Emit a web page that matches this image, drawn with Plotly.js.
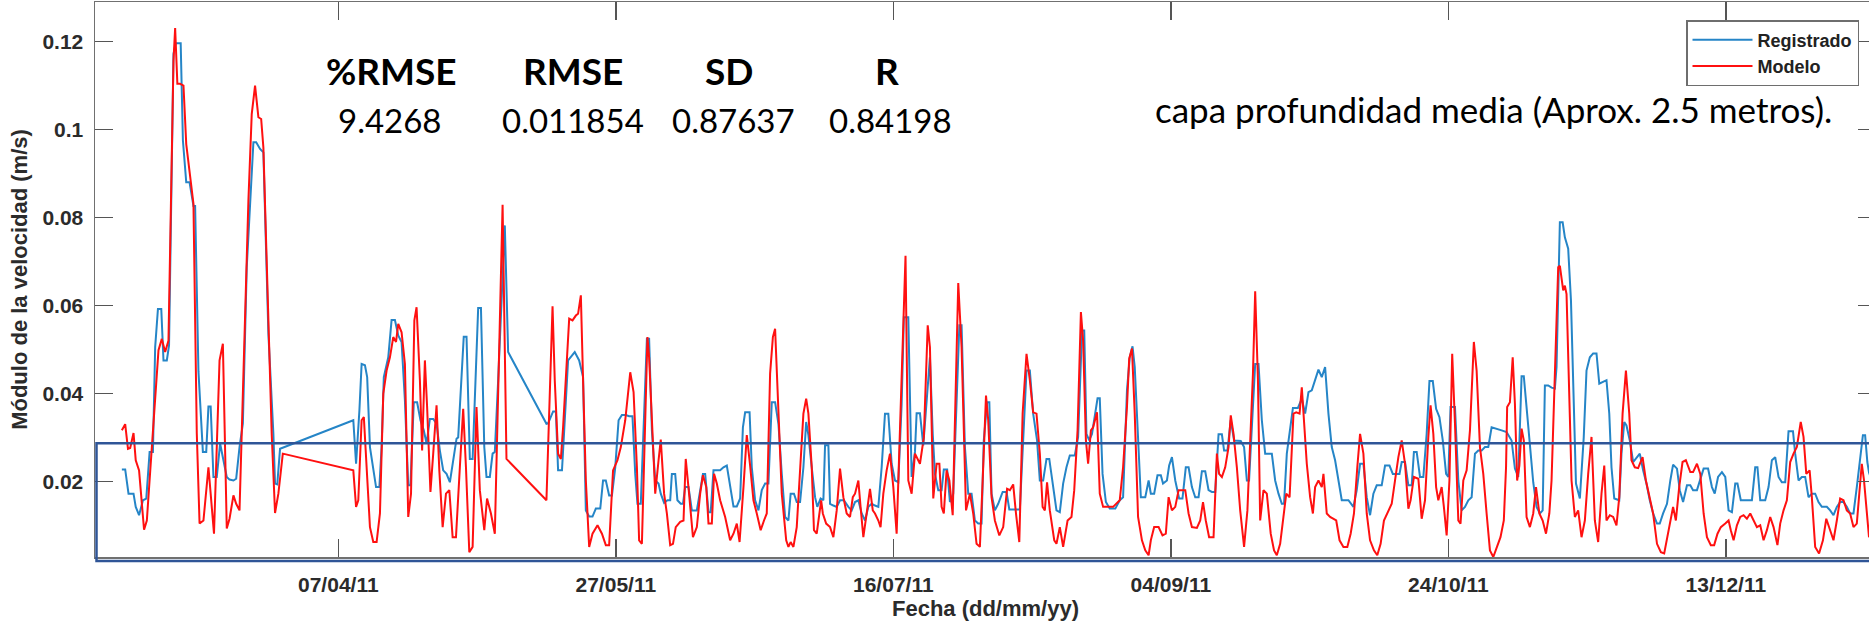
<!DOCTYPE html>
<html>
<head>
<meta charset="utf-8">
<script src="https://cdn.plot.ly/plotly-3.0.1.min.js"></script>
<style>
html,body{margin:0;padding:0;overflow:hidden;background:#fff;width:1869px;height:627px;}
#chart{width:1900px;height:627px;}
</style>
</head>
<body>
<div id="chart"></div>
<script>
// ---- Data (day of year 2011, velocity m/s) ----
const registrado = [
[58.0,0.0227],[58.6,0.0227],[59.2,0.0172],[60.1,0.0172],[60.5,0.0142],[61.1,0.0123],[61.8,0.0157],[62.4,0.0161],[63.0,0.0267],[63.6,0.0267],
[64.0,0.0505],[64.5,0.0592],[65.1,0.0592],[65.5,0.0475],[66.1,0.0475],[66.5,0.0509],[67.3,0.1172],[67.7,0.1196],[68.6,0.1196],[69.0,0.0975],
[69.6,0.088],[70.2,0.088],[70.9,0.0826],[71.2,0.0826],[71.8,0.045],[72.1,0.0369],[72.6,0.0267],[73.2,0.0267],[73.6,0.037],[74.0,0.037],
[74.5,0.021],[75.1,0.021],[75.7,0.0286],[76.9,0.021],[77.4,0.0204],[78.1,0.0202],[78.6,0.0206],[79.2,0.0278],[79.8,0.0331],[80.5,0.0687],
[81.7,0.0971],[82.2,0.0971],[82.9,0.0956],[83.5,0.0948],[84.4,0.0536],[85.3,0.0308],[85.6,0.0195],[86.0,0.0193],[86.5,0.0274],
[99.7,0.0339],[100.2,0.024],[100.8,0.0361],[101.2,0.0467],[101.8,0.0464],[102.2,0.0437],[102.7,0.0278],[103.3,0.0232],[103.8,0.0187],[104.4,0.0187],
[104.8,0.0278],[105.2,0.0437],[106.0,0.0482],[106.6,0.0567],[107.2,0.0567],[107.8,0.0532],[108.4,0.0517],[109.0,0.0384],[109.6,0.0191],[110.0,0.0191],
[110.6,0.038],[111.2,0.038],[111.8,0.0339],[112.4,0.0316],[112.9,0.0286],[113.5,0.0342],[114.1,0.0342],[114.7,0.0331],[115.3,0.027],[115.9,0.0225],
[116.5,0.0217],[117.1,0.0198],[117.7,0.0248],[118.3,0.0297],[118.6,0.030],[119.2,0.043],[119.6,0.0529],[120.1,0.0529],[120.7,0.0251],[121.2,0.0251],
[121.9,0.0467],[122.2,0.0594],[122.7,0.0594],[123.3,0.0278],[123.7,0.021],[124.3,0.021],[124.8,0.0263],[125.2,0.0267],[125.8,0.043],[127.0,0.0782],
[127.6,0.0494],[134.5,0.0331],[134.8,0.0332],[135.7,0.0359],[136.2,0.0359],[136.6,0.0225],[137.3,0.0225],[137.8,0.0354],[138.4,0.0475],[139.6,0.0494],
[140.4,0.0475],[141.1,0.0437],[141.6,0.0134],[142.2,0.012],[142.8,0.012],[143.4,0.0138],[144.2,0.0138],[144.7,0.0202],[145.2,0.0202],[145.8,0.0168],
[146.3,0.0168],[146.9,0.0232],[147.5,0.0339],[148.1,0.0351],[148.8,0.0351],[149.4,0.0348],[150.0,0.0348],[150.5,0.0217],[150.9,0.0149],[151.5,0.0149],
[152.1,0.0339],[152.6,0.0524],[153.0,0.0524],[153.5,0.0316],[154.1,0.0202],[154.7,0.0195],[155.1,0.0172],[155.7,0.0151],[156.3,0.0157],[156.8,0.0157],
[157.1,0.0217],[157.7,0.0217],[158.1,0.0157],[158.7,0.0149],[159.1,0.0149],[159.5,0.0187],[160.1,0.0187],[160.7,0.0134],[161.6,0.0134],[162.2,0.018],
[162.7,0.0217],[163.1,0.0217],[163.7,0.013],[164.1,0.013],[164.6,0.0225],[165.8,0.0225],[166.4,0.0232],[167.0,0.0236],[167.6,0.0187],[168.2,0.0143],
[168.8,0.0143],[169.4,0.0161],[169.9,0.0323],[170.3,0.0357],[171.1,0.0357],[171.5,0.0232],[172.1,0.0157],[172.7,0.0134],[173.3,0.018],[173.9,0.0195],
[174.5,0.0195],[175.1,0.038],[175.7,0.038],[176.3,0.0331],[176.9,0.0217],[177.5,0.0119],[178.1,0.0111],[178.5,0.0172],[179.1,0.0172],[179.6,0.0153],
[180.2,0.0153],[180.8,0.0232],[181.3,0.0335],[181.7,0.0305],[182.3,0.0232],[182.9,0.0164],[183.3,0.0142],[183.9,0.0161],[184.4,0.0157],[184.7,0.0282],
[185.3,0.0282],[185.6,0.0149],[186.2,0.0145],[186.8,0.0142],[187.4,0.0157],[188.1,0.0157],[188.9,0.0142],[189.5,0.0134],[190.1,0.0153],[190.7,0.0157],
[191.3,0.0127],[191.9,0.0111],[192.5,0.0142],[193.1,0.0149],[193.7,0.0145],[194.3,0.0142],[194.9,0.0232],[195.5,0.0354],[196.1,0.0354],[196.7,0.024],
[197.3,0.0202],[197.9,0.0198],[198.5,0.0376],[198.9,0.0573],[199.7,0.0573],[200.3,0.021],[200.9,0.0267],[201.2,0.0355],[201.8,0.0355],[202.4,0.0282],
[203.6,0.0482],[204.1,0.0308],[204.5,0.0217],[205.1,0.018],[205.7,0.018],[206.1,0.0227],[206.7,0.0227],[207.2,0.0153],[207.8,0.0172],[208.3,0.0354],
[208.9,0.0555],[209.3,0.0555],[209.9,0.0278],[210.5,0.0172],[211.1,0.0172],[211.7,0.0111],[212.3,0.0104],[212.9,0.0104],[213.3,0.0293],[213.9,0.038],
[214.3,0.038],[214.7,0.0172],[215.3,0.0134],[215.9,0.0149],[216.7,0.0176],[217.4,0.0176],[217.9,0.0136],[219.8,0.0136],[220.4,0.030],[221.0,0.0452],
[221.6,0.0452],[222.2,0.0354],[222.9,0.0293],[223.4,0.0202],[224.0,0.0202],[224.6,0.0251],[225.1,0.0251],[225.7,0.0202],[226.4,0.0134],[227.0,0.013],
[227.6,0.0195],[228.2,0.0232],[228.8,0.0259],[229.7,0.0259],[230.3,0.0301],[231.0,0.0543],[231.4,0.0543],[231.8,0.0308],[232.3,0.0293],[232.8,0.0308],
[233.3,0.0354],[233.8,0.0389],[234.2,0.0389],[234.7,0.0217],[235.3,0.0153],[236.0,0.0138],[237.0,0.0138],[237.8,0.0157],[238.4,0.0164],[239.1,0.0407],
[239.6,0.0482],[240.1,0.0507],[240.5,0.046],[241.1,0.0278],[241.6,0.0164],[242.4,0.0164],[243.0,0.0202],[243.4,0.0172],[244.0,0.0172],[244.6,0.0214],
[245.2,0.0214],[245.6,0.0195],[246.3,0.0202],[246.7,0.0236],[247.2,0.0255],[247.8,0.0202],[248.2,0.018],[248.5,0.0161],[249.1,0.0161],[249.7,0.0232],
[250.2,0.0232],[250.8,0.0187],[251.4,0.0164],[252.0,0.0164],[252.6,0.0223],[253.2,0.0223],[253.8,0.018],[254.4,0.0176],[255.0,0.0176],[255.6,0.0307],
[256.2,0.0307],[256.6,0.027],[257.2,0.027],[257.8,0.0339],[258.4,0.0293],[259.0,0.0292],[259.6,0.0292],[260.2,0.0278],[260.7,0.0202],[261.1,0.0202],
[261.6,0.0323],[262.2,0.0467],[262.8,0.0467],[263.4,0.0339],[264.0,0.0263],[265.2,0.0263],[265.8,0.0202],[266.4,0.0172],[267.0,0.0149],[267.4,0.0149],
[267.9,0.0263],[268.4,0.0316],[269.0,0.0367],[269.9,0.0367],[270.6,0.0388],[271.2,0.0354],[271.8,0.0403],[272.4,0.0407],[273.0,0.043],[273.6,0.0454],
[274.2,0.0437],[274.8,0.046],[275.4,0.0354],[276.0,0.0278],[276.6,0.0248],[277.2,0.0202],[277.8,0.0157],[279.0,0.0157],[279.9,0.0142],[280.5,0.018],
[281.1,0.024],[281.7,0.024],[282.3,0.0164],[282.9,0.0123],[283.5,0.0172],[284.1,0.0191],[285.0,0.0191],[285.6,0.0236],[286.4,0.0236],[287.0,0.0217],
[288.2,0.0217],[288.6,0.0244],[289.2,0.0244],[289.8,0.0191],[290.4,0.0191],[290.8,0.0267],[291.3,0.0267],[291.9,0.021],[292.5,0.021],[293.1,0.0308],
[293.6,0.0428],[294.2,0.0428],[294.8,0.0365],[295.4,0.0346],[296.0,0.0293],[296.6,0.0217],[297.0,0.021],[297.4,0.0369],[298.2,0.0369],[298.8,0.0202],
[299.4,0.0134],[300.0,0.0142],[300.6,0.0157],[301.2,0.0164],[301.8,0.0263],[302.4,0.027],[303.0,0.027],[303.6,0.0278],[304.2,0.0278],[304.8,0.0323],
[305.7,0.032],[306.6,0.0316],[307.5,0.0312],[308.4,0.0293],[309.0,0.0229],[309.6,0.021],[310.2,0.0439],[310.6,0.0439],[311.2,0.0354],[311.8,0.0278],
[312.3,0.0198],[312.9,0.0142],[313.5,0.0127],[314.0,0.0134],[314.4,0.0418],[315.0,0.0418],[315.6,0.0413],[316.2,0.0411],[316.5,0.046],[317.1,0.0789],
[317.6,0.0789],[318.0,0.0755],[318.6,0.0729],[319.1,0.0611],[319.5,0.0422],[320.0,0.0195],[320.7,0.0161],[321.4,0.030],[321.9,0.0452],[322.5,0.0482],
[323.1,0.0491],[323.7,0.0491],[324.2,0.0422],[324.8,0.0425],[325.5,0.043],[326.0,0.0354],[326.4,0.0232],[326.9,0.0161],[327.8,0.0157],[328.2,0.0263],
[328.7,0.0335],[329.1,0.0327],[329.7,0.0293],[330.3,0.0244],[330.9,0.0255],[331.5,0.0263],[332.1,0.0225],[332.7,0.0195],[333.3,0.0157],[333.9,0.0127],
[334.6,0.0104],[335.1,0.0104],[335.7,0.0127],[336.4,0.0149],[337.0,0.0202],[337.5,0.0238],[338.2,0.0229],[338.7,0.018],[339.3,0.0153],[340.0,0.0191],
[340.6,0.0191],[341.1,0.018],[341.8,0.018],[342.4,0.0202],[343.0,0.0229],[343.8,0.0229],[344.5,0.0187],[345.0,0.0172],[345.6,0.021],[346.3,0.0221],
[346.9,0.021],[347.5,0.0134],[348.1,0.013],[348.7,0.0195],[349.1,0.0195],[349.7,0.0157],[351.7,0.0157],[352.3,0.0232],[352.7,0.0232],[353.2,0.0157],
[354.1,0.0157],[354.7,0.0187],[355.3,0.0248],[355.9,0.0255],[356.5,0.021],[357.1,0.0198],[357.7,0.0198],[358.3,0.0314],[359.1,0.0314],[359.5,0.0263],
[360.1,0.0202],[360.7,0.021],[361.3,0.021],[361.9,0.0164],[362.5,0.0172],[363.1,0.0172],[363.7,0.0153],[364.3,0.0142],[365.2,0.0142],[365.8,0.0134],
[366.4,0.0123],[367.0,0.0142],[367.6,0.0153],[368.2,0.0153],[368.8,0.0142],[369.4,0.0127],[370.0,0.0127],[370.6,0.0187],[371.2,0.0248],[371.7,0.0305],
[372.1,0.0305],[372.5,0.0244],[372.8,0.022],[373.9,0.018]
];

const modelo = [
[58.0,0.0316],[58.6,0.033],[59.1,0.0274],[59.5,0.0276],[60.1,0.031],[60.5,0.0248],[61.1,0.0225],[62.0,0.009],[62.5,0.0111],[64.0,0.0399],
[64.6,0.0498],[65.2,0.0524],[65.8,0.0494],[66.4,0.052],[67.0,0.0914],[67.3,0.1156],[67.6,0.1231],[68.0,0.1104],[68.5,0.1104],[69.1,0.110],
[69.6,0.0967],[70.3,0.0891],[70.9,0.0831],[71.5,0.0309],[72.0,0.0104],[72.7,0.0111],[73.6,0.0232],[74.0,0.0172],[74.6,0.0081],[75.6,0.0475],
[76.2,0.0513],[76.9,0.0093],[77.4,0.0115],[78.1,0.0168],[78.6,0.0149],[79.2,0.0134],[80.8,0.0838],[81.4,0.1035],[82.0,0.110],[82.6,0.1028],
[83.1,0.1024],[83.5,0.0959],[84.4,0.0536],[85.0,0.0308],[85.6,0.0128],[86.2,0.0172],[87.0,0.0263],
[99.7,0.0225],[100.2,0.0142],[100.6,0.0157],[101.2,0.0339],[101.6,0.0346],[102.1,0.0232],[102.7,0.0096],[103.3,0.0062],[103.9,0.0062],[104.5,0.0127],
[105.1,0.0399],[105.7,0.0452],[106.3,0.0482],[106.9,0.0528],[107.4,0.0517],[107.8,0.0558],[108.4,0.0539],[109.0,0.0467],[109.6,0.0119],[110.1,0.0172],
[110.7,0.0566],[111.1,0.0596],[111.7,0.043],[112.1,0.027],[112.6,0.0475],[113.0,0.0369],[113.6,0.0176],[114.1,0.0263],[114.7,0.0373],[115.2,0.0225],
[115.8,0.0096],[116.4,0.0172],[117.0,0.018],[117.6,0.0073],[118.2,0.0073],[118.9,0.0232],[119.5,0.0365],[120.0,0.0232],[120.6,0.0039],[121.2,0.0051],
[121.9,0.0369],[122.5,0.018],[123.3,0.0089],[123.8,0.0161],[124.5,0.0127],[125.2,0.0081],[125.8,0.043],[126.6,0.0829],[127.3,0.0251],
[134.5,0.0157],[135.6,0.0598],[136.0,0.043],[136.6,0.0263],[137.1,0.0251],[137.5,0.0323],[138.6,0.057],[139.2,0.0566],[139.8,0.0577],[140.2,0.0581],
[140.7,0.0623],[141.1,0.043],[141.6,0.0202],[142.2,0.0051],[142.8,0.0081],[143.7,0.010],[144.5,0.0081],[145.2,0.0055],[145.8,0.0055],[146.5,0.0225],
[147.3,0.0248],[147.9,0.0278],[148.7,0.0339],[149.6,0.0448],[150.2,0.0403],[150.8,0.0232],[151.2,0.0066],[151.7,0.0058],[152.7,0.0528],[153.0,0.0482],
[153.6,0.0316],[154.1,0.0172],[154.7,0.0248],[155.1,0.0295],[155.7,0.0172],[156.2,0.0127],[156.8,0.0055],[157.3,0.0058],[157.8,0.0096],[158.6,0.0108],
[159.2,0.0111],[159.6,0.0251],[160.2,0.0172],[160.9,0.0073],[161.6,0.0096],[162.2,0.0172],[162.7,0.0214],[163.3,0.0187],[163.7,0.0104],[164.3,0.0104],
[164.7,0.0217],[165.2,0.0195],[165.8,0.0157],[166.7,0.0119],[167.6,0.0066],[168.2,0.0081],[168.8,0.0104],[169.3,0.0062],[170.0,0.0187],[170.6,0.0305],
[171.2,0.0236],[171.8,0.0157],[172.4,0.0127],[173.1,0.0089],[173.7,0.0111],[174.2,0.0127],[174.8,0.0445],[175.3,0.0528],[175.7,0.0547],[176.3,0.0354],
[176.9,0.0172],[177.7,0.0066],[178.1,0.0051],[178.5,0.0062],[179.0,0.0051],[179.6,0.0096],[180.3,0.0232],[180.8,0.0354],[181.3,0.0388],[181.7,0.0354],
[182.3,0.0232],[182.7,0.0089],[183.2,0.0081],[183.7,0.0134],[184.0,0.0157],[184.3,0.0127],[184.9,0.0104],[185.6,0.0096],[186.2,0.0073],[186.8,0.0134],
[187.4,0.0229],[188.0,0.0164],[188.6,0.0127],[189.2,0.0119],[189.7,0.0164],[190.1,0.0172],[190.7,0.0202],[191.1,0.0142],[191.6,0.0073],[192.2,0.0127],
[192.8,0.0183],[193.3,0.0134],[193.7,0.0127],[194.3,0.0111],[194.7,0.0096],[195.2,0.0172],[195.8,0.0225],[196.4,0.0263],[197.0,0.0187],[197.6,0.0081],
[198.2,0.0308],[198.8,0.0581],[199.2,0.0713],[199.7,0.0202],[200.3,0.0172],[200.9,0.0263],[201.8,0.024],[202.5,0.030],[203.2,0.0555],[203.6,0.0505],
[204.2,0.0161],[204.8,0.024],[205.3,0.024],[205.7,0.0142],[206.1,0.0127],[206.6,0.0225],[207.1,0.0202],[207.7,0.0123],[208.3,0.043],[208.7,0.0651],
[209.3,0.0505],[210.1,0.0134],[210.8,0.0172],[211.4,0.0127],[212.0,0.0058],[212.6,0.0051],[213.1,0.0202],[213.7,0.0395],[214.1,0.0339],[214.7,0.0164],
[215.3,0.0111],[216.1,0.0077],[216.8,0.0096],[217.5,0.0183],[218.0,0.018],[218.6,0.0193],[219.1,0.0127],[219.7,0.0062],[220.3,0.0354],[221.0,0.049],
[221.6,0.043],[222.2,0.0357],[222.8,0.0354],[223.4,0.0263],[223.9,0.0142],[224.3,0.0134],[224.7,0.0198],[225.2,0.0134],[226.0,0.0066],[226.4,0.0058],
[227.0,0.0096],[227.6,0.0051],[228.4,0.0111],[229.1,0.0119],[229.6,0.018],[230.2,0.0316],[230.8,0.0585],[231.2,0.052],[231.7,0.0293],[232.1,0.024],
[232.6,0.0316],[233.0,0.0323],[233.7,0.0357],[234.2,0.0172],[234.8,0.0142],[236.6,0.0142],[237.8,0.0157],[238.4,0.0232],[239.1,0.0369],[239.5,0.0479],
[240.0,0.0502],[240.5,0.0354],[241.1,0.0119],[241.8,0.0066],[242.4,0.0043],[243.0,0.0032],[243.4,0.0066],[244.0,0.0096],[244.8,0.0096],[245.5,0.0077],
[246.1,0.0081],[246.6,0.0164],[247.2,0.0134],[247.8,0.0142],[248.4,0.018],[249.6,0.018],[250.2,0.0127],[250.8,0.0096],[251.7,0.0094],[252.3,0.0111],
[252.8,0.0153],[253.3,0.0111],[253.9,0.0073],[254.7,0.0073],[255.3,0.0263],[255.7,0.0217],[256.2,0.021],[256.8,0.0232],[257.4,0.0278],[257.8,0.035],
[258.3,0.0308],[258.9,0.0232],[259.5,0.0134],[260.2,0.0051],[260.8,0.0134],[261.3,0.0278],[261.8,0.0445],[262.2,0.0632],[262.7,0.043],[263.1,0.0111],
[263.7,0.018],[264.3,0.0172],[265.0,0.0081],[265.6,0.0043],[266.1,0.0032],[266.7,0.0058],[267.3,0.0127],[267.8,0.0172],[268.4,0.0164],[269.1,0.0354],
[269.6,0.0357],[270.2,0.0354],[270.6,0.0414],[271.0,0.0331],[271.5,0.024],[272.1,0.0164],[272.6,0.0127],[273.0,0.0187],[273.6,0.0202],[274.2,0.0187],
[274.5,0.0217],[275.1,0.0127],[275.7,0.0119],[276.8,0.0111],[277.4,0.0066],[278.1,0.0051],[278.8,0.0051],[279.4,0.0081],[280.0,0.0127],[280.6,0.0232],
[281.1,0.0308],[281.7,0.0263],[282.3,0.0127],[282.9,0.0066],[283.6,0.0043],[284.2,0.0032],[284.8,0.0058],[285.4,0.0111],[286.0,0.0127],[286.8,0.0149],
[287.4,0.0202],[288.0,0.0255],[288.6,0.0293],[289.2,0.024],[289.8,0.0138],[290.2,0.0157],[290.8,0.021],[291.6,0.0206],[292.2,0.0115],[292.8,0.0157],
[293.4,0.0301],[293.8,0.0373],[294.3,0.0308],[294.8,0.0187],[295.2,0.0157],[295.8,0.0187],[296.2,0.0142],[296.7,0.0077],[297.2,0.0202],[297.7,0.049],
[298.2,0.0331],[298.8,0.0111],[299.2,0.0104],[299.7,0.0202],[300.3,0.0225],[300.9,0.0316],[301.6,0.0517],[302.1,0.0452],[302.7,0.0278],[303.3,0.0217],
[303.9,0.0127],[304.5,0.0043],[305.1,0.0028],[305.8,0.0051],[306.4,0.0073],[307.0,0.0111],[307.4,0.0232],[307.6,0.0369],[308.1,0.038],[308.6,0.0482],
[309.0,0.0376],[309.4,0.0202],[309.8,0.0236],[310.2,0.032],[310.6,0.0293],[311.1,0.0119],[311.7,0.0096],[312.3,0.0127],[312.8,0.0187],[313.4,0.0127],
[314.0,0.0111],[314.6,0.0081],[315.2,0.0127],[315.6,0.0202],[316.2,0.043],[316.8,0.0687],[317.1,0.069],[317.7,0.0634],[318.0,0.0645],[318.3,0.0626],
[318.9,0.0346],[319.2,0.0202],[319.8,0.0119],[320.4,0.0134],[321.0,0.0073],[321.6,0.0111],[322.2,0.0217],[322.8,0.0301],[323.4,0.0111],[324.0,0.0062],
[324.6,0.0172],[325.1,0.0236],[325.5,0.0111],[326.1,0.0123],[326.7,0.0119],[327.3,0.010],[327.8,0.0164],[328.4,0.0354],[329.0,0.0452],[329.6,0.0354],
[330.0,0.0248],[330.6,0.0232],[331.2,0.023],[332.0,0.0255],[332.6,0.0202],[333.3,0.0157],[333.9,0.0127],[334.6,0.0058],[335.3,0.0039],[335.9,0.0036],
[336.5,0.0073],[337.0,0.0111],[337.5,0.0142],[338.0,0.0111],[338.6,0.0187],[339.2,0.0244],[339.8,0.0248],[340.6,0.0221],[341.1,0.0221],[341.8,0.024],
[342.4,0.0217],[343.0,0.0127],[343.6,0.0073],[344.3,0.0055],[344.9,0.0055],[345.5,0.0081],[346.1,0.0096],[346.9,0.0104],[347.5,0.0111],[347.9,0.0089],
[348.4,0.0066],[349.0,0.010],[349.6,0.0119],[350.2,0.0123],[350.8,0.0115],[351.4,0.0127],[352.0,0.0111],[352.6,0.0096],[353.2,0.010],[353.8,0.0066],
[354.4,0.0089],[355.0,0.0119],[355.6,0.0096],[356.3,0.0055],[356.8,0.0104],[357.4,0.0134],[358.0,0.0157],[358.6,0.0244],[359.2,0.0263],[359.8,0.0278],
[360.5,0.0335],[361.0,0.0301],[361.5,0.0217],[362.1,0.0225],[362.5,0.0164],[363.1,0.0051],[363.8,0.0036],[364.5,0.0066],[365.1,0.0115],[365.8,0.0089],
[366.4,0.0066],[367.0,0.0111],[367.6,0.0161],[368.2,0.0157],[368.8,0.0134],[369.4,0.0127],[370.0,0.0096],[370.6,0.0104],[371.1,0.0172],[371.5,0.024],
[371.9,0.0202],[372.4,0.0127],[372.8,0.0073],[373.9,0.0095]
];

const tickDias = [97, 147, 197, 247, 297, 347];
const tickTexto = ['07/04/11', '27/05/11', '16/07/11', '04/09/11', '24/10/11', '13/12/11'];
const yTicks = [0.02, 0.04, 0.06, 0.08, 0.1, 0.12];
const yTicksTexto = ['0.02', '0.04', '0.06', '0.08', '0.1', '0.12'];
const estadNombres = ['%RMSE', 'RMSE', 'SD', 'R'];
const estadValores = ['9.4268', '0.011854', '0.87637', '0.84198'];
const rangoDias = [53.16, 374.06];
const rangoVel = [0.0028, 0.129];

// ---- helpers ----
const T0 = Date.UTC(2011, 0, 1);
const DIA = 86400000;
const aMs = d => T0 + (d - 1) * DIA;

// plot area in pixels (for placing overlay text)
const L = 95, R = 1876, TOP = 2, BOT = 557;
const px = X => (X - L) / (R - L);
const py = Y => (BOT - Y) / (BOT - TOP);

const axisFont = {family: 'Liberation Sans, Arial, sans-serif', size: 21, color: '#2b2b2b', weight: 'bold'};
const calib = 'Lato, Carlito, Calibri, sans-serif';

const traces = [
  {name: 'Registrado', type: 'scatter', mode: 'lines',
   x: registrado.map(p => aMs(p[0])), y: registrado.map(p => p[1]),
   line: {color: '#2585c7', width: 2}},
  {name: 'Modelo', type: 'scatter', mode: 'lines',
   x: modelo.map(p => aMs(p[0])), y: modelo.map(p => p[1]),
   line: {color: '#ff1010', width: 2}}
];

const statX = [391, 573, 729, 887];
const numX = [390, 573, 733, 890];
const annotations = [];
estadNombres.forEach((t, i) => annotations.push({
  xref: 'paper', yref: 'paper', x: px(statX[i]), y: py(71), xanchor: 'center', yanchor: 'middle',
  text: t, showarrow: false, font: {family: calib, size: 37, color: '#000', weight: 'bold'}
}));
estadValores.forEach((t, i) => annotations.push({
  xref: 'paper', yref: 'paper', x: px(numX[i]), y: py(120), xanchor: 'center', yanchor: 'middle',
  text: t, showarrow: false, font: {family: calib, size: 33, color: '#000'}
}));
annotations.push({
  xref: 'paper', yref: 'paper', x: px(1834), y: py(109), xanchor: 'right', yanchor: 'middle',
  text: 'capa profundidad media (Aprox. 2.5 metros).', showarrow: false,
  font: {family: calib, size: 35, color: '#000'}
});

const layout = {
  width: 1900, height: 627,
  margin: {l: L, r: 1900 - R, t: TOP, b: 627 - BOT, autoexpand: false},
  paper_bgcolor: '#fff', plot_bgcolor: '#fff',
  showlegend: true,
  legend: {
    x: px(1859), y: py(20), xanchor: 'right', yanchor: 'top',
    bgcolor: '#fff', bordercolor: '#6e6e6e', borderwidth: 1.5,
    font: {family: 'Liberation Sans, Arial, sans-serif', size: 18, color: '#222', weight: 'bold'},
    itemwidth: 60, tracegroupgap: 0
  },
  xaxis: {
    type: 'date', range: rangoDias.map(aMs),
    tickmode: 'array', tickvals: tickDias.map(aMs), ticktext: tickTexto,
    ticks: 'inside', ticklen: 18, tickwidth: 1.5, tickcolor: '#555',
    showline: true, linecolor: '#707070', linewidth: 1.5, mirror: 'ticks',
    showgrid: false, zeroline: false, tickfont: axisFont, ticklabelstandoff: 8,
    title: {text: 'Fecha (dd/mm/yy)', font: {family: 'Liberation Sans, Arial, sans-serif', size: 22, color: '#2b2b2b', weight: 'bold'}, standoff: 6}
  },
  yaxis: {
    range: rangoVel,
    tickmode: 'array', tickvals: yTicks, ticktext: yTicksTexto,
    ticks: 'inside', ticklen: 18, tickwidth: 1.5, tickcolor: '#555',
    showline: true, linecolor: '#707070', linewidth: 1.5, mirror: 'ticks',
    showgrid: false, zeroline: false, tickfont: axisFont, ticklabelstandoff: 6,
    title: {text: 'Módulo de la velocidad (m/s)', font: {family: 'Liberation Sans, Arial, sans-serif', size: 22, color: '#2b2b2b', weight: 'bold'}, standoff: 8}
  },
  shapes: [{
    type: 'rect', xref: 'paper', yref: 'paper', layer: 'above',
    x0: px(96.5), x1: 1.05, y0: py(561), y1: py(443.3),
    line: {color: '#2f5597', width: 2.5}, fillcolor: 'rgba(0,0,0,0)'
  }],
  annotations: annotations
};

Plotly.newPlot('chart', traces, layout, {staticPlot: true, displayModeBar: false});
</script>
</body>
</html>
